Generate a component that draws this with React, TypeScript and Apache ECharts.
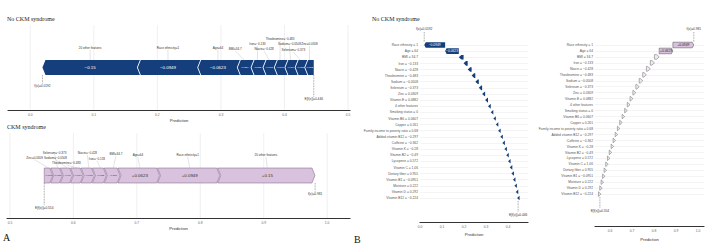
import React, { useEffect, useRef } from "react";
import * as echarts from "echarts";

// ---------- data ----------
const featureNames = [
  "Race ethnicity", "Age", "BMI", "Iron", "Niacin", "Theobromine", "Sodium", "Selenium", "Zinc",
  "Vitamin E", "4 other features", "Smoking status", "Vitamin B6", "Copper",
  "Family income to poverty ratio", "Added vitamin B12", "Caffeine", "Vitamin K", "Vitamin B2",
  "Lycopene", "Vitamin C", "Dietary fiber", "Vitamin B1", "Moisture", "Vitamin D", "Vitamin B12",
];
const featureValues = [
  "1", "64", "34.7", "\u22120.133", "\u22120.428", "\u22120.483", "\u22120.0508", "\u22120.373", "0.0309",
  "0.0882", "", "0", "0.0607", "0.261", "0.68", "\u22120.297", "\u22120.362", "\u22120.28", "\u22120.49",
  "0.572", "1.06", "0.955", "\u22120.0951", "0.222", "0.292", "\u22120.224",
];
// |SHAP| of each feature (negative for "No CKM", positive for "CKM")
const shapMagnitude = [
  0.0949, 0.0623, 0.0216, 0.0188, 0.0178, 0.0167, 0.016, 0.0152, 0.0135,
  0.013, 0.0125, 0.0118, 0.0112, 0.0105, 0.01, 0.0095, 0.009, 0.0086, 0.0082,
  0.0078, 0.0074, 0.007, 0.0066, 0.0062, 0.0058, 0.0049,
];
const baseNoCkm = 0.446; // E[f(x)]
const outNoCkm = 0.0192; // f(x)
const baseCkm = 0.554;
const outCkm = 0.981;
const nShownForce = 9;
const forceTicksNo = [0, 0.1, 0.2, 0.3, 0.4, 0.5];
const forceTicksCkm = [0.5, 0.6, 0.7, 0.8, 0.9, 1.0];
const waterTicksNo = [0, 0.1, 0.2, 0.3, 0.4];
const waterTicksCkm = [0.6, 0.7, 0.8, 0.9, 1.0];

// ---------- annotation layout (label offsets, px) ----------
// top force order: other, Race, Age, BMI, Iron, Niacin, Theobromine, Sodium, Selenium, Zinc
const topLabelDx = [0, 0, 0, -9.5, 0, -5, 0, -1, -7, 0];
const topLabelY = [22.5, 22.5, 22.5, 24, 19, 24, 14, 19, 25, 19];
// bottom force order: Zinc, Selenium, Sodium, Theobromine, Niacin, Iron, BMI, Age, Race, other
const botLabelDx = [-14, -3, -12, -11.5, -1.5, -3.5, 2.6, -2, -2, -1.5];
const botLabelY = [24.7, 19.3, 24.7, 30, 20, 25.7, 20.7, 22, 22, 22];

const SANS = "Liberation Sans, Arial, sans-serif";
const SERIF = "Liberation Serif, Times New Roman, serif";
const BLUE = "#143f7c";
const PURPLE = "#d8c2dd";
const PURPLE_EDGE = "#7a5c84";
const MINUS = "\u2212";

const fmt = (v: number, sign: string) => sign + parseFloat(Math.abs(v).toPrecision(3)).toString();

function buildOption() {
  const otherSum = shapMagnitude.slice(nShownForce).reduce((a, b) => a + b, 0);
  const otherCount = featureNames.slice(nShownForce).reduce((n, name) => {
    const m = name.match(/^(\d+) other/);
    return n + (m ? +m[1] : 1);
  }, 0);
  const forceNames = [
    `${otherCount} other features`,
    ...featureNames.slice(0, nShownForce).map((n, i) => `${n}=${featureValues[i]}`),
  ];
  const forceMags = [otherSum, ...shapMagnitude.slice(0, nShownForce)];

  const topSegs: number[][] = [];
  let acc = outNoCkm;
  forceMags.forEach((m) => { topSegs.push([acc, acc + m]); acc += m; });
  const botNames = [...forceNames].reverse();
  const botMags = [...forceMags].reverse();
  const botSegs: number[][] = [];
  acc = baseCkm;
  botMags.forEach((m) => { botSegs.push([acc, acc + m]); acc += m; });

  const n = featureNames.length;
  const wfLabels = featureNames.map((nm, i) => (featureValues[i] ? `${nm} = ${featureValues[i]}` : nm));
  const wfNo: number[][] = [];
  acc = baseNoCkm;
  for (let k = n - 1; k >= 0; k--) { wfNo[k] = [acc, acc - shapMagnitude[k], k]; acc -= shapMagnitude[k]; }
  const wfCkm: number[][] = [];
  acc = baseCkm;
  for (let k = n - 1; k >= 0; k--) { wfCkm[k] = [acc, acc + shapMagnitude[k], k]; acc += shapMagnitude[k]; }

  const gridSeries = (idx: number, ticks: number[]) => ({
    type: "custom", xAxisIndex: idx, yAxisIndex: idx, silent: true, clip: false, z: 1,
    data: ticks.map((t) => [t, 0]),
    renderItem: (params: any, api: any) => {
      const cs = params.coordSys;
      const x = api.coord([api.value(0), 0])[0];
      return { type: "line", shape: { x1: x, y1: cs.y, x2: x, y2: cs.y + cs.height }, style: { stroke: "#e6e6e6", lineWidth: 0.6 } };
    },
  });

  const forceSeries = (idx: number, segs: number[][], names: string[], mags: number[], dxs: number[], ly: number[], dir: number) => ({
    type: "custom", xAxisIndex: idx, yAxisIndex: idx, silent: true, clip: false, z: 5,
    data: segs.map((s, i) => [s[0], s[1], i]),
    renderItem: (params: any, api: any) => {
      const i = api.value(2);
      const cs = params.coordSys;
      const a = api.coord([api.value(0), 0])[0];
      const b = api.coord([api.value(1), 0])[0];
      const top = cs.y + 35, bot = top + 15, mid = top + 7.5;
      const d = 3, g = 0.9;
      const last = i === segs.length - 1, first = i === 0;
      let pts: number[][];
      if (dir < 0) {
        pts = last
          ? [[a, mid], [a + d, top], [b, top], [b, bot], [a + d, bot]]
          : [[a, mid], [a + d, top], [b + d - g, top], [b - g, mid], [b + d - g, bot], [a + d, bot]];
      } else {
        pts = first
          ? [[a, top], [b - d, top], [b, mid], [b - d, bot], [a, bot]]
          : [[a - d + g, top], [b - d, top], [b, mid], [b - d, bot], [a - d + g, bot], [a + g, mid]];
      }
      const cx = (a + b) / 2;
      const big = b - a > 25;
      const lx = cx + dxs[i];
      const lyy = cs.y + ly[i];
      return {
        type: "group",
        children: [
          {
            type: "polygon", shape: { points: pts },
            style: dir < 0 ? { fill: BLUE } : { fill: PURPLE, stroke: PURPLE_EDGE, lineWidth: 0.5 },
          },
          {
            type: "text", x: cx, y: mid,
            style: {
              text: fmt(mags[i], dir < 0 ? MINUS : "+"), fontSize: big ? 4.4 : 2.1, fontFamily: SANS,
              fill: dir < 0 ? "#fff" : "#333", align: "center", verticalAlign: "middle",
            },
          },
          {
            type: "line", shape: { x1: lx, y1: lyy + 2, x2: cx, y2: top },
            style: { stroke: "#bbb", lineWidth: 0.4 },
          },
          {
            type: "text", x: lx, y: lyy,
            style: { text: names[i], fontSize: 3.0, fontFamily: SANS, fill: "#333", align: "center", verticalAlign: "middle" },
          },
        ],
      };
    },
  });

  const forceAnno = (idx: number, items: { v: number; t: string; dy: number }[]) => ({
    type: "custom", xAxisIndex: idx, yAxisIndex: idx, silent: true, clip: false, z: 6,
    data: items.map((it, i) => [it.v, i]),
    renderItem: (params: any, api: any) => {
      const cs = params.coordSys;
      const it = items[api.value(1)];
      const x = api.coord([api.value(0), 0])[0];
      return {
        type: "group",
        children: [
          { type: "line", shape: { x1: x, y1: cs.y + 50, x2: x, y2: cs.y + it.dy - 2.5 }, style: { stroke: "#555", lineWidth: 0.6, lineDash: [0.8, 0.8] } },
          { type: "text", x, y: cs.y + it.dy, style: { text: it.t, fontSize: 3.2, fontFamily: SANS, fill: "#333", align: "center", verticalAlign: "middle" } },
        ],
      };
    },
  });

  const waterSeries = (idx: number, rows: number[][], dir: number) => ({
    type: "custom", xAxisIndex: idx, yAxisIndex: idx, silent: true, clip: false, z: 5,
    data: rows,
    renderItem: (params: any, api: any) => {
      const k = api.value(2);
      const p1 = api.coord([api.value(0), k]);
      const p2 = api.coord([api.value(1), k]);
      const y = p1[1];
      const xs = p1[0], xe = p2[0];
      const w = Math.abs(xe - xs);
      const big = w > 10;
      const hh = big ? 2.8 : 2.3;
      const H = big ? 1.5 : 2.5;
      const s = dir;
      let pts: number[][];
      if (w >= H) {
        pts = [[xe, y], [xe - s * H, y - hh], [xs, y - hh], [xs, y + hh], [xe - s * H, y + hh]];
      } else {
        pts = [[xe, y], [xe - s * H, y - hh], [xe - s * H, y + hh]];
      }
      const style = dir < 0
        ? { fill: BLUE }
        : big
          ? { fill: PURPLE, stroke: "#4a4a4a", lineWidth: 0.5 }
          : { fill: "#f1e8f3", stroke: "#666", lineWidth: 0.5 };
      const children: any[] = [{ type: "polygon", shape: { points: pts }, style }];
      if (big) {
        children.push({
          type: "text", x: (xs + xe) / 2, y,
          style: {
            text: fmt(shapMagnitude[k], dir < 0 ? MINUS : "+"), fontSize: 3.3, fontFamily: SANS,
            fill: dir < 0 ? "#fff" : "#222", align: "center", verticalAlign: "middle",
          },
        });
      }
      return { type: "group", children };
    },
  });

  const waterAnno = (idx: number, fx: number, ex: number) => ({
    type: "custom", xAxisIndex: idx, yAxisIndex: idx, silent: true, clip: false, z: 6,
    data: [[fx, 0, 0], [ex, n - 1, 1]],
    renderItem: (params: any, api: any) => {
      const cs = params.coordSys;
      const kind = api.value(2);
      const x = api.coord([api.value(0), api.value(1)])[0];
      if (kind === 0) {
        return {
          type: "group", children: [
            { type: "line", shape: { x1: x, y1: cs.y - 13, x2: x, y2: cs.y - 3 }, style: { stroke: "#555", lineWidth: 0.6, lineDash: [0.8, 0.8] } },
            { type: "text", x, y: cs.y - 16, style: { text: `f(x)=${fx}`, fontSize: 3.2, fontFamily: SANS, fill: "#333", align: "center", verticalAlign: "middle" } },
          ],
        };
      }
      const yb = cs.y + cs.height;
      return {
        type: "group", children: [
          { type: "line", shape: { x1: x, y1: yb + 3, x2: x, y2: yb + 14 }, style: { stroke: "#555", lineWidth: 0.6, lineDash: [0.8, 0.8] } },
          { type: "text", x, y: yb + 17, style: { text: `E[f(x)]=${ex}`, fontSize: 3.2, fontFamily: SANS, fill: "#333", align: "center", verticalAlign: "middle" } },
        ],
      };
    },
  });

  const valueX = (idx: number, min: number, max: number, ticks: number[], extra: any = {}) => ({
    gridIndex: idx, type: "value", min, max,
    axisLine: { show: true, onZero: false, lineStyle: { color: "#333", width: 1.2 } },
    axisTick: { show: false },
    splitLine: { show: false },
    axisLabel: {
      customValues: ticks, fontSize: 3.3, color: "#666", margin: 3, fontFamily: SANS,
      formatter: (v: number) => v.toFixed(1),
    },
    name: "Prediction", nameLocation: "middle", nameGap: 8.5,
    nameTextStyle: { fontSize: 4.2, color: "#333", fontFamily: SANS },
    ...extra,
  });

  const catY = (idx: number) => ({
    gridIndex: idx, type: "category", data: wfLabels, inverse: true, boundaryGap: false,
    axisLine: { show: false }, axisTick: { show: false },
    axisLabel: { interval: 0, fontSize: 3.3, color: "#555", margin: 2, fontFamily: SANS },
    splitLine: { show: true, interval: 0, lineStyle: { color: "#e8e8e8", width: 0.5 } },
  });

  return {
    animation: false,
    backgroundColor: "#fff",
    grid: [
      { left: 8, top: 25, width: 342, height: 85, containLabel: false },
      { left: 7, top: 133, width: 343, height: 85, containLabel: false },
      { left: 420, top: 45, width: 108, height: 153, containLabel: false },
      { left: 595, top: 45, width: 109, height: 153, containLabel: false },
    ],
    xAxis: [
      valueX(0, -0.035, 0.503, forceTicksNo),
      valueX(1, 0.4953, 1.036, forceTicksCkm),
      valueX(2, 0, 0.4909, waterTicksNo, { offset: 24, nameGap: 7 }),
      valueX(3, 0.5318, 1.0273, waterTicksCkm, { offset: 32, nameGap: 9 }),
    ],
    yAxis: [
      { gridIndex: 0, type: "value", min: 0, max: 1, show: false },
      { gridIndex: 1, type: "value", min: 0, max: 1, show: false },
      catY(2),
      catY(3),
    ],
    graphic: [
      { type: "text", left: 7, top: 15.5, style: { text: "No CKM syndrome", fontSize: 6, fontFamily: SERIF, fill: "#222" } },
      { type: "text", left: 7, top: 124, style: { text: "CKM syndrome", fontSize: 6, fontFamily: SERIF, fill: "#222" } },
      { type: "text", left: 372, top: 15.5, style: { text: "No CKM syndrome", fontSize: 6, fontFamily: SERIF, fill: "#222" } },
      { type: "text", left: 3, top: 232, style: { text: "A", fontSize: 10, fontFamily: SERIF, fill: "#111" } },
      { type: "text", left: 354, top: 234, style: { text: "B", fontSize: 10, fontFamily: SERIF, fill: "#111" } },
    ],
    series: [
      gridSeries(0, forceTicksNo),
      gridSeries(1, forceTicksCkm),
      forceSeries(0, topSegs, forceNames, forceMags, topLabelDx, topLabelY, -1),
      forceSeries(1, botSegs, botNames, botMags, botLabelDx, botLabelY, 1),
      forceAnno(0, [
        { v: outNoCkm, t: `f(x)=${outNoCkm}`, dy: 61 },
        { v: baseNoCkm, t: `E[f(x)]=${baseNoCkm}`, dy: 74 },
      ]),
      forceAnno(1, [
        { v: baseCkm, t: `E[f(x)]=${baseCkm}`, dy: 75 },
        { v: outCkm, t: `f(x)=${outCkm}`, dy: 61 },
      ]),
      waterSeries(2, wfNo, -1),
      waterSeries(3, wfCkm, 1),
      waterAnno(2, outNoCkm, baseNoCkm),
      waterAnno(3, outCkm, baseCkm),
    ],
  };
}

export default function App() {
  const ref = useRef<HTMLDivElement>(null);
  useEffect(() => {
    const chart = echarts.init(ref.current!, null, { renderer: "svg" });
    chart.setOption(buildOption() as any);
    return () => chart.dispose();
  }, []);
  return (
    <div
      ref={ref}
      style={{ position: "absolute", left: 0, top: 0, width: 709, height: 246, background: "#fff" }}
    />
  );
}
